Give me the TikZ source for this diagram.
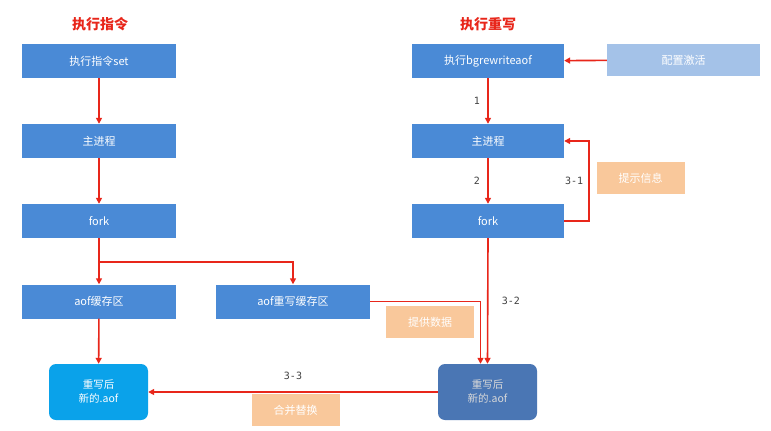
\documentclass[tikz,border=0pt]{standalone}
\usepackage{fontspec}
\setmainfont{Noto Sans CJK SC}
\newfontfamily\monof{DejaVu Sans Mono}
\usetikzlibrary{arrows.meta}
\definecolor{bx}{HTML}{4A8AD6}
\definecolor{lbx}{HTML}{A4C2E8}
\definecolor{org}{HTML}{F9C89B}
\definecolor{cyanb}{HTML}{0AA2EA}
\definecolor{darkb}{HTML}{4A76B4}
\definecolor{ar}{HTML}{E8261A}
\definecolor{ttl}{HTML}{E8261A}
\begin{document}
\begin{tikzpicture}[x=1pt,y=-1pt,
  box/.style={fill=bx,text=white,minimum width=154pt,minimum height=34pt,inner sep=0pt,font=\fontsize{11}{13}\selectfont},
  tag/.style={fill=org,text=white,minimum width=88pt,minimum height=32pt,inner sep=0pt,font=\fontsize{11}{13}\selectfont},
  res/.style={rounded corners=7pt,text=white,minimum width=99pt,minimum height=56pt,inner sep=0pt,align=center,font=\fontsize{10.5}{14}\selectfont},
  lbl/.style={font=\monof\fontsize{10}{12}\selectfont,text=black!75},
  ttlf/.style={text=ttl,font=\bfseries\fontsize{14}{16}\selectfont},
  arr/.style={draw=ar,line width=1.6pt,-{Triangle[length=6pt,width=6pt]}}]
\useasboundingbox (0,0) rectangle (771,431);
\fill[white] (0,0) rectangle (771,431);
\node[ttlf] (t1) at (100,24) {执行指令};
\node[ttlf] (t2) at (488,24) {执行重写};
\node[box] (a1) at (99,61) {执行指令set};
\node[box] (a2) at (99,141) {主进程};
\node[box] (a3) at (99,221) {fork};
\node[box] (a4) at (99,301.5) {aof缓存区};
\node[box] (c1) at (293,301.5) {aof重写缓存区};
\node[box,minimum width=152pt] (b1) at (488,61) {执行bgrewriteaof};
\node[box,minimum width=152pt] (b2) at (488,141) {主进程};
\node[box,minimum width=152pt] (b3) at (488,221) {fork};
\node[box,fill=lbx,minimum width=153pt,minimum height=32pt] (cfg) at (683.5,60) {配置激活};
\node[tag] (tip) at (640.5,178) {提示信息};
\node[tag] (data) at (430,322) {提供数据};
\node[tag] (merge) at (295.5,410) {合并替换};
\node[res,fill=cyanb] (r1) at (98.5,392) {重写后\\新的.aof};
\node[res,fill=darkb,text=black!15] (r2) at (487.5,392) {重写后\\新的.aof};
\draw[arr] (a1) -- (a2);
\draw[arr] (a2) -- (a3);
\draw[arr] (a3) -- (a4);
\draw[arr] (a4) -- (r1);
\coordinate (j) at (99,262);
\draw[arr] (j) -| (c1.north);
\draw[arr] (cfg) -- (b1);
\draw[arr] (b1) -- node[lbl,left=4pt]{1} (b2);
\draw[arr] (b2) -- node[lbl,left=4pt]{2} (b3);
\draw[arr] (b3.east) -- ++(25,0) |- node[lbl,pos=0.25,left=2pt]{3-1} (b2.east);
\draw[arr] (b3.south) -- node[lbl,right=10pt,pos=0.5]{3-2} (r2.north);
\draw[arr] (c1.east) -| ([xshift=-7pt]r2.north);
\draw[arr] (r2) -- node[lbl,above=8pt]{3-3} (r1);
\end{tikzpicture}
\end{document}
